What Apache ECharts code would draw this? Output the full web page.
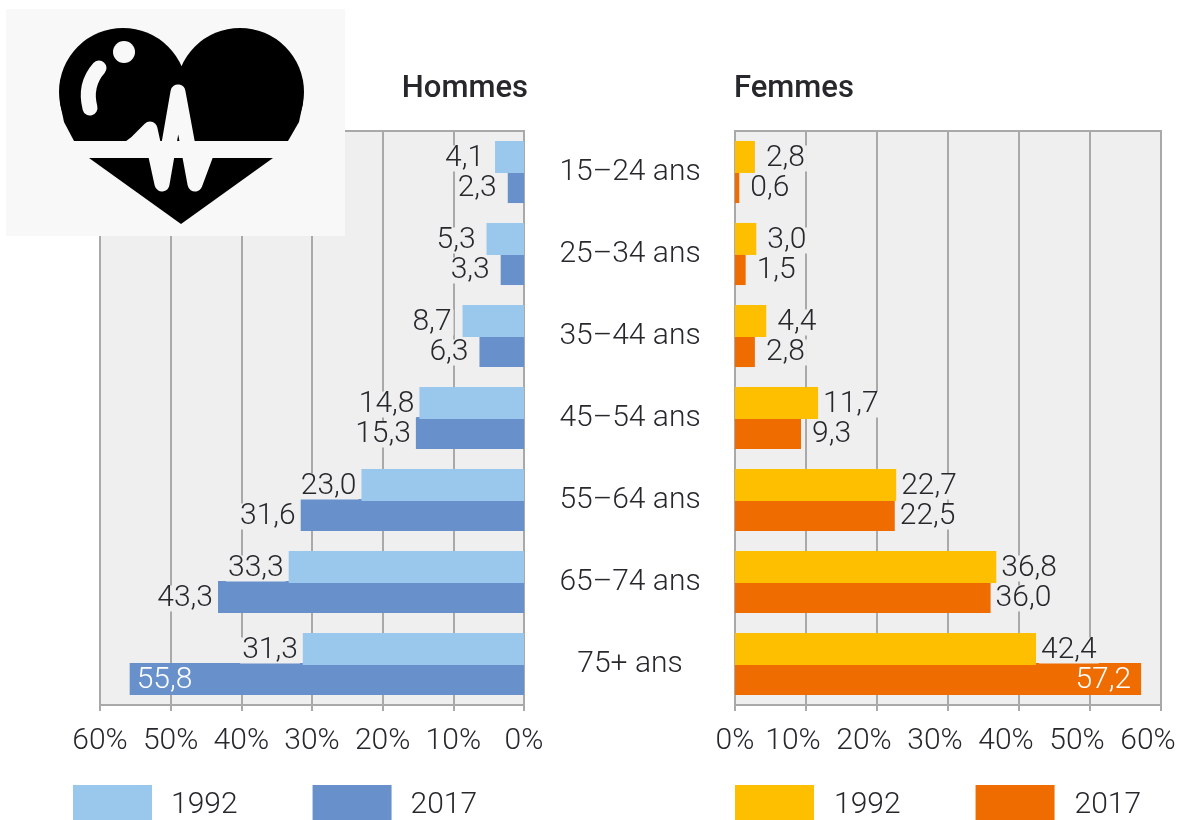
<!DOCTYPE html>
<html>
<head>
<meta charset="utf-8">
<style>html,body{margin:0;padding:0;background:#fff;overflow:hidden}#c{width:1182px;height:820px}</style>
<script src="https://cdn.jsdelivr.net/npm/echarts@6/dist/echarts.min.js"></script>
</head>
<body>
<div id="c"></div>
<script>
const categories = ['15–24 ans','25–34 ans','35–44 ans','45–54 ans','55–64 ans','65–74 ans','75+ ans'];
const hommes1992 = [4.1,5.3,8.7,14.8,23.0,33.3,31.3];
const hommes2017 = [2.3,3.3,6.3,15.3,31.6,43.3,55.8];
const femmes1992 = [2.8,3.0,4.4,11.7,22.7,36.8,42.4];
const femmes2017 = [0.6,1.5,2.8,9.3,22.5,36.0,57.2];
const colors = {h92:'#9ac7ec', h17:'#6891cc', f92:'#fdbf00', f17:'#ee6c00'};

const FONT = 'Roboto';
const TXT = '#26282c';
const GRIDC = '#a9a9a9';
const PLOT = '#efefef';
const LOGO = '#f8f8f8';
const fmtV = v => v.toFixed(1).replace('.', ',');
const baseText = {fontFamily: FONT, fontWeight: 300, fontSize: 30, color: TXT};

function barSeries(name, data, color, idx, outward, z, insideDist) {
  return {
    type: 'bar', name, xAxisIndex: idx, yAxisIndex: idx, barWidth: 32, barGap: '-6%', z,
    itemStyle: {color},
    label: {
      show: true, position: outward, distance: 3, ...baseText,
      backgroundColor: PLOT, lineHeight: 26, padding: [0, 2, 0, 2], offset: [0, 1.5],
      formatter: p => fmtV(p.value)
    },
    data: data.map(v => {
      if (v >= 50) return {
        value: v,
        label: {position: outward === 'left' ? 'insideLeft' : 'insideRight', distance: insideDist,
                color: '#fff', backgroundColor: 'transparent'}
      };
      if (v < 10) return {value: v, label: {distance: 9}};
      return v;
    })
  };
}

function xAxis(idx, inverse, nudge) {
  return {
    type: 'value', gridIndex: idx, min: 0, max: 60, interval: 10, inverse,
    axisLine: {show: true, lineStyle: {color: GRIDC, width: 2}},
    axisTick: {show: true, length: 6, lineStyle: {color: GRIDC, width: 2}},
    splitLine: {show: true, lineStyle: {color: GRIDC, width: 2}},
    axisLabel: {
      ...baseText, margin: 21, hideOverlap: false,
      formatter: v => nudge && v > 0 ? '{n|' + v + '%}' : v + '%',
      rich: {n: {...baseText, padding: [0, 26, 0, 0]}}
    }
  };
}
function yAxis(idx, showLabels) {
  return {
    type: 'category', gridIndex: idx, data: categories, inverse: true,
    axisLine: {show: false}, axisTick: {show: false},
    axisLabel: showLabels
      ? {show: true, ...baseText, align: 'center', margin: 105, interval: 0, padding: [6, 0, 0, 0]}
      : {show: false}
  };
}
function legend(left, names, gap, pad) {
  return {
    left, top: 785, padding: 0, orient: 'horizontal', itemWidth: 79, itemHeight: 40, itemGap: gap,
    selectedMode: false, icon: 'rect', data: names,
    formatter: n => n.slice(-4),
    textStyle: {...baseText, padding: [8, 0, 0, pad]}
  };
}

const option = {
  animation: false,
  backgroundColor: '#fff',
  title: [
    {text: 'Hommes', right: 1182 - 528, top: 74, padding: 0, textStyle: {fontFamily: FONT, fontWeight: 500, fontSize: 31, color: TXT}},
    {text: 'Femmes', left: 734, top: 74, padding: 0, textStyle: {fontFamily: FONT, fontWeight: 500, fontSize: 31, color: TXT}}
  ],
  grid: [
    {left: 100, top: 131, width: 424, height: 574, outerBoundsMode: 'none', show: true, backgroundColor: PLOT, borderColor: GRIDC, borderWidth: 2},
    {left: 735, top: 131, width: 426, height: 574, outerBoundsMode: 'none', show: true, backgroundColor: PLOT, borderColor: GRIDC, borderWidth: 2}
  ],
  xAxis: [xAxis(0, true, false), xAxis(1, false, true)],
  yAxis: [yAxis(0, false), yAxis(1, true)],
  legend: [
    legend(73, ['Hommes 1992', 'Hommes 2017'], 75, 14),
    legend(735, ['Femmes 1992', 'Femmes 2017'], 75, 15)
  ],
  series: [
    barSeries('Hommes 1992', hommes1992, colors.h92, 0, 'left', 3, 5),
    barSeries('Hommes 2017', hommes2017, colors.h17, 0, 'left', 2, 5),
    barSeries('Femmes 1992', femmes1992, colors.f92, 1, 'right', 3, 8),
    barSeries('Femmes 2017', femmes2017, colors.f17, 1, 'right', 2, 8)
  ],
  graphic: [
    {type: 'rect', z: 100, shape: {x: 6, y: 9, width: 339, height: 227}, style: {fill: LOGO}},
    {type: 'circle', z: 101, shape: {cx: 123, cy: 92, r: 64}, style: {fill: '#000'}},
    {type: 'circle', z: 101, shape: {cx: 240, cy: 92, r: 64}, style: {fill: '#000'}},
    {type: 'polygon', z: 101, shape: {points: [[60,103],[64,122],[74,141],[89,158],[181,224],[273,158],[288,141],[299,122],[303,103],[181,66]]}, style: {fill: '#000'}},
    {type: 'rect', z: 102, shape: {x: 60, y: 141, width: 240, height: 17}, style: {fill: LOGO}},
    {type: 'polyline', z: 103, shape: {points: [[128,149],[136,143],[150,129],[162,184],[178,92],[195,184],[208,149]]},
      style: {stroke: LOGO, fill: null, lineWidth: 15, lineCap: 'round', lineJoin: 'round'}},
    {type: 'circle', z: 103, shape: {cx: 124, cy: 52, r: 11}, style: {fill: LOGO}},
    {type: 'bezierCurve', z: 103, shape: {x1: 99, y1: 68, cpx1: 84, cpy1: 85, x2: 90, y2: 108},
      style: {stroke: LOGO, fill: null, lineWidth: 15, lineCap: 'round'}}
  ]
};
const chart = echarts.init(document.getElementById('c'), null, {renderer: 'canvas'});
chart.setOption(option);
</script>
</body>
</html>
